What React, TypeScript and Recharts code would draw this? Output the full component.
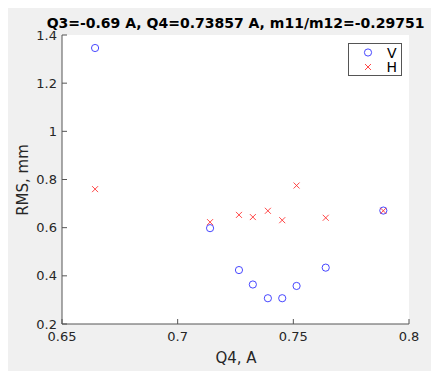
import React from "react"
import { ScatterChart, Scatter, XAxis, YAxis, CartesianGrid } from "recharts"

// Q4 setpoints, A
const q4 = [0.6643, 0.714, 0.7265, 0.7325, 0.739, 0.7452, 0.7514, 0.764, 0.7889]
// RMS values, mm
const rmsV = [1.346, 0.598, 0.424, 0.364, 0.307, 0.307, 0.358, 0.434, 0.671]
const rmsH = [0.76, 0.623, 0.653, 0.644, 0.67, 0.631, 0.775, 0.641, 0.67]

const xTicks = [0.65, 0.7, 0.75, 0.8]
const yTicks = [0.2, 0.4, 0.6, 0.8, 1, 1.2, 1.4]

const vData = q4.map((x, i) => ({ x, y: rmsV[i] }))
const hData = q4.map((x, i) => ({ x, y: rmsH[i] }))

const font = "'DejaVu Sans', sans-serif"
const ink = "#262626"
const axisColor = "#555"

const Circle = (p: any) => (
  <circle cx={p.cx} cy={p.cy} r={3.6} fill="none" stroke="#3333ff" strokeWidth={0.9} />
)

const crossPath = (cx: number, cy: number, s: number) =>
  `M${cx - s},${cy - s}L${cx + s},${cy + s}M${cx - s},${cy + s}L${cx + s},${cy - s}`

const Cross = (p: any) => (
  <path d={crossPath(p.cx, p.cy, 3)} fill="none" stroke="#ff3333" strokeWidth={0.9} />
)

const noTick = () => <g />

export default function App() {
  return (
    <div
      style={{
        position: "relative",
        width: 431,
        height: 366,
        marginTop: -3,
        background: "#f0f0f0",
        overflow: "hidden",
        fontFamily: font,
        color: ink,
      }}
    >
      <ScatterChart
        width={431}
        height={366}
        margin={{ top: 30, right: 30, left: 14, bottom: 17 }}
        accessibilityLayer={false}
      >
        <CartesianGrid fill="#ffffff" horizontal={false} vertical={false} />
        <XAxis
          xAxisId="b"
          type="number"
          dataKey="x"
          domain={[0.65, 0.8]}
          ticks={xTicks}
          allowDataOverflow
          height={30}
          tickSize={-5}
          tickMargin={13}
          stroke={axisColor}
          tick={{ fill: ink, fontSize: 13, fontFamily: font }}
        />
        <XAxis
          xAxisId="t"
          orientation="top"
          type="number"
          domain={[0.65, 0.8]}
          ticks={xTicks}
          allowDataOverflow
          height={0}
          tickSize={-5}
          stroke={axisColor}
          tick={noTick}
        />
        <YAxis
          yAxisId="l"
          type="number"
          dataKey="y"
          domain={[0.2, 1.4]}
          ticks={yTicks}
          allowDataOverflow
          width={40}
          tickSize={-5}
          tickMargin={10}
          stroke={axisColor}
          tick={{ fill: ink, fontSize: 13, fontFamily: font }}
        />
        <YAxis
          yAxisId="r"
          orientation="right"
          type="number"
          domain={[0.2, 1.4]}
          ticks={yTicks}
          allowDataOverflow
          width={0}
          tickSize={-5}
          stroke={axisColor}
          tick={noTick}
        />
        <Scatter name="V" data={vData} xAxisId="b" yAxisId="l" fill="#0000ff" shape={Circle} activeShape={Circle} isAnimationActive={false} />
        <Scatter name="H" data={hData} xAxisId="b" yAxisId="l" fill="#ff0000" shape={Cross} activeShape={Cross} isAnimationActive={false} />
      </ScatterChart>

      <div
        style={{
          position: "absolute",
          left: 0,
          top: 11,
          width: 455,
          textAlign: "center",
          whiteSpace: "nowrap",
          fontWeight: "bold",
          fontSize: 14,
          lineHeight: "14px",
          color: "#000",
        }}
      >
        Q3=-0.69 A, Q4=0.73857 A, m11/m12=-0.29751
      </div>

      <div
        style={{
          position: "absolute",
          left: 128,
          top: 345,
          width: 200,
          textAlign: "center",
          fontSize: 15,
          lineHeight: "16px",
        }}
      >
        Q4, A
      </div>

      <div
        style={{
          position: "absolute",
          left: 14.5 - 100,
          top: 174.5 - 8,
          width: 200,
          textAlign: "center",
          fontSize: 15,
          lineHeight: "16px",
          transform: "rotate(-90deg)",
        }}
      >
        RMS, mm
      </div>

      <div
        style={{
          position: "absolute",
          left: 340,
          top: 38,
          width: 54,
          height: 33,
          boxSizing: "border-box",
          background: "#fff",
          border: `1px solid ${axisColor}`,
          fontSize: 14,
        }}
      >
        <svg width={52} height={31} style={{ position: "absolute", left: 0, top: 0 }}>
          <circle cx={19} cy={8.5} r={3.6} fill="none" stroke="#3333ff" strokeWidth={0.9} />
          <path d={crossPath(19, 23, 3)} fill="none" stroke="#ff3333" strokeWidth={0.9} />
          <text x={42.7} y={13.5} textAnchor="middle" fontSize={14} fontFamily={font} fill="#000">
            V
          </text>
          <text x={42.7} y={28} textAnchor="middle" fontSize={14} fontFamily={font} fill="#000">
            H
          </text>
        </svg>
      </div>
    </div>
  )
}
